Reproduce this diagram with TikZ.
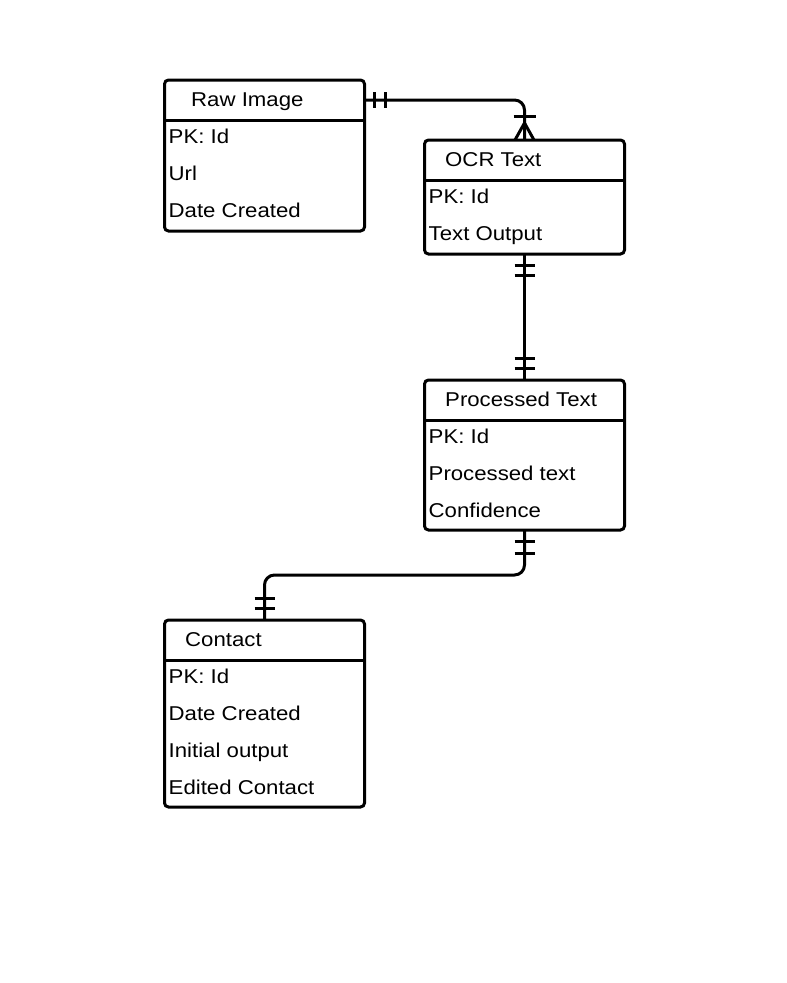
\documentclass[tikz,border=0pt]{standalone}
\usepackage{fontspec}
\setmainfont{Liberation Sans}[FakeStretch=1.11]
\usetikzlibrary{calc}
\begin{document}
\begin{tikzpicture}[x=1pt,y=-1pt,
  tbl/.style={draw, line width=3pt, rounded corners=4pt, minimum width=200pt, inner sep=0pt, outer sep=0pt},
  conn/.style={line width=3pt},
  hdrline/.style={line width=3pt},
  fld/.style={anchor=base west, inner sep=0pt, font=\fontsize{20pt}{24pt}\selectfont}]
\useasboundingbox[fill=white] (0,0) rectangle (787,983);

% tables
\node[tbl, minimum height=151pt] (raw) at (264.5,155.5) {};
\node[tbl, minimum height=114pt] (ocr) at (524.5,197) {};
\node[tbl, minimum height=150pt] (proc) at (524.5,455) {};
\node[tbl, minimum height=187pt] (contact) at (264.5,713.5) {};

% header separators
\foreach \t in {raw,ocr,proc,contact}
  \draw[hdrline] ($(\t.north west)+(0,40)$) -- ($(\t.north east)+(0,40)$);

% headers
\node[fld] (rawh) at ($(raw.north west)+(26.5,26.5)$) {Raw Image};
\node[fld] (ocrh) at ($(ocr.north west)+(20.5,26.5)$) {OCR Text};
\node[fld] (proch) at ($(proc.north west)+(20.5,26.5)$) {Processed Text};
\node[fld] (contacth) at ($(contact.north west)+(20.5,26.5)$) {Contact};

% fields
\node[fld] (raw1) at ($(raw.north west)+(4,63)$) {PK: Id};
\node[fld] (raw2) at ($(raw.north west)+(4,100)$) {Url};
\node[fld] (raw3) at ($(raw.north west)+(4,137)$) {Date Created};

\node[fld] (ocr1) at ($(ocr.north west)+(4,63)$) {PK: Id};
\node[fld] (ocr2) at ($(ocr.north west)+(4,100)$) {Text Output};

\node[fld] (proc1) at ($(proc.north west)+(4,63)$) {PK: Id};
\node[fld] (proc2) at ($(proc.north west)+(4,100)$) {Processed text};
\node[fld] (proc3) at ($(proc.north west)+(4,137)$) {Confidence};

\node[fld] (con1) at ($(contact.north west)+(4,63)$) {PK: Id};
\node[fld] (con2) at ($(contact.north west)+(4,100)$) {Date Created};
\node[fld] (con3) at ($(contact.north west)+(4,137)$) {Initial output};
\node[fld] (con4) at ($(contact.north west)+(4,174)$) {Edited Contact};

% connector Raw Image -> OCR Text
\draw[conn, rounded corners=10pt] ($(raw.north east)+(0,20)$) -| (ocr.north);
\draw[conn] ($(raw.north east)+(10,12)$) -- ++(0,16);
\draw[conn] ($(raw.north east)+(21,12)$) -- ++(0,16);
\draw[conn] ($(ocr.north)+(-11,-24)$) -- ++(22,0);
\draw[conn] ($(ocr.north)+(-9.5,0)$) -- ($(ocr.north)+(0,-17)$) -- ($(ocr.north)+(9.5,0)$);

% connector OCR Text -> Processed Text
\draw[conn] (ocr.south) -- (proc.north);
\draw[conn] ($(ocr.south)+(-10,11)$) -- ++(20,0);
\draw[conn] ($(ocr.south)+(-10,21)$) -- ++(20,0);
\draw[conn] ($(proc.north)+(-10,-22)$) -- ++(20,0);
\draw[conn] ($(proc.north)+(-10,-12)$) -- ++(20,0);

% connector Processed Text -> Contact
\draw[conn, rounded corners=10pt] (proc.south) -- ($(proc.south)+(0,45)$) -| (contact.north);
\draw[conn] ($(proc.south)+(-10,11)$) -- ++(20,0);
\draw[conn] ($(proc.south)+(-10,23)$) -- ++(20,0);
\draw[conn] ($(contact.north)+(-10,-22)$) -- ++(20,0);
\draw[conn] ($(contact.north)+(-10,-12)$) -- ++(20,0);
\end{tikzpicture}
\end{document}
